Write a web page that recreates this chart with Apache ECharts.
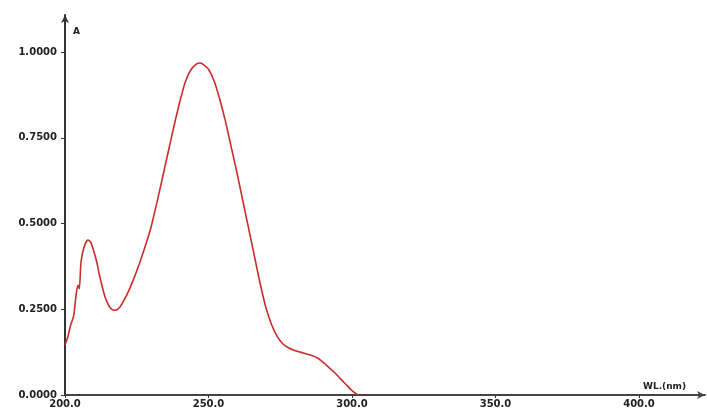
<!DOCTYPE html>
<html>
<head>
<meta charset="utf-8">
<script src="https://cdn.jsdelivr.net/npm/echarts@6/dist/echarts.min.js"></script>
<style>html,body{margin:0;padding:0;background:#fff}#c{width:707px;height:413px}</style>
</head>
<body>
<div id="c"></div>
<script>
const wavelengths = [200,201,202,203,204,204.5,205,205.5,206,207,208,209,210,211,212,213,214,215,216,217,218,219,220,222,224,226,228,230,232,234,236,238,240,242,244,246,247,248,250,252,254,256,258,260,262,264,266,268,270,272,274,276,278,280,282,284,286,288,290,292,294,296,298,300,302];
const absorbance = [0.146,0.17,0.205,0.23,0.30,0.32,0.31,0.38,0.41,0.44,0.452,0.445,0.42,0.39,0.35,0.315,0.285,0.265,0.252,0.247,0.248,0.255,0.268,0.30,0.34,0.385,0.435,0.49,0.56,0.635,0.71,0.785,0.855,0.915,0.95,0.966,0.968,0.965,0.95,0.915,0.86,0.795,0.72,0.645,0.565,0.485,0.405,0.325,0.255,0.205,0.17,0.148,0.137,0.13,0.125,0.12,0.115,0.108,0.095,0.08,0.065,0.047,0.03,0.013,0.0];
const xTicks = [200,250,300,350,400];
const yTicks = [0,0.25,0.5,0.75,1.0];

const data = wavelengths.map((w,i)=>[w, absorbance[i]]);
const chart = echarts.init(document.getElementById('c'));
const lblFont = {fontFamily:'DejaVu Sans', fontWeight:'bold', fontSize:10, color:'#222'};
chart.setOption({
  animation:false,
  backgroundColor:'#fff',
  grid:{left:65,right:2,top:15,bottom:18,containLabel:false},
  xAxis:{
    type:'value', min:200, max:423,
    name:'WL.(nm)', nameLocation:'end', nameGap:-62,
    nameTextStyle:{fontFamily:'DejaVu Sans', fontWeight:'bold', fontSize:9, color:'#222', align:'left', verticalAlign:'bottom', padding:[0,0,4,0]},
    axisLine:{show:true, lineStyle:{color:'#444', width:2}, symbol:['none','arrow'], symbolSize:[6,8]},
    axisTick:{show:true, customValues:xTicks, length:3, lineStyle:{color:'#333'}},
    axisLabel:{customValues:xTicks, margin:4, formatter:v=>v.toFixed(1), ...lblFont},
    splitLine:{show:false}
  },
  yAxis:{
    type:'value', min:0, max:1.108,
    name:'A', nameLocation:'end', nameGap:-17,
    nameTextStyle:{fontFamily:'DejaVu Sans', fontWeight:'bold', fontSize:9, color:'#222', align:'left', verticalAlign:'middle', padding:[0,0,0,8]},
    axisLine:{show:true, lineStyle:{color:'#333', width:2}, symbol:['none','arrow'], symbolSize:[6,8]},
    axisTick:{show:true, customValues:yTicks, length:4, lineStyle:{color:'#333'}},
    axisLabel:{customValues:yTicks, margin:8, formatter:v=>v.toFixed(4), ...lblFont},
    splitLine:{show:false}
  },
  series:[{
    type:'line', data:data, showSymbol:false, smooth:0.2,
    lineStyle:{color:'#cc2b2b', width:1.6},
    z:1
  }]
});
</script>
</body>
</html>
